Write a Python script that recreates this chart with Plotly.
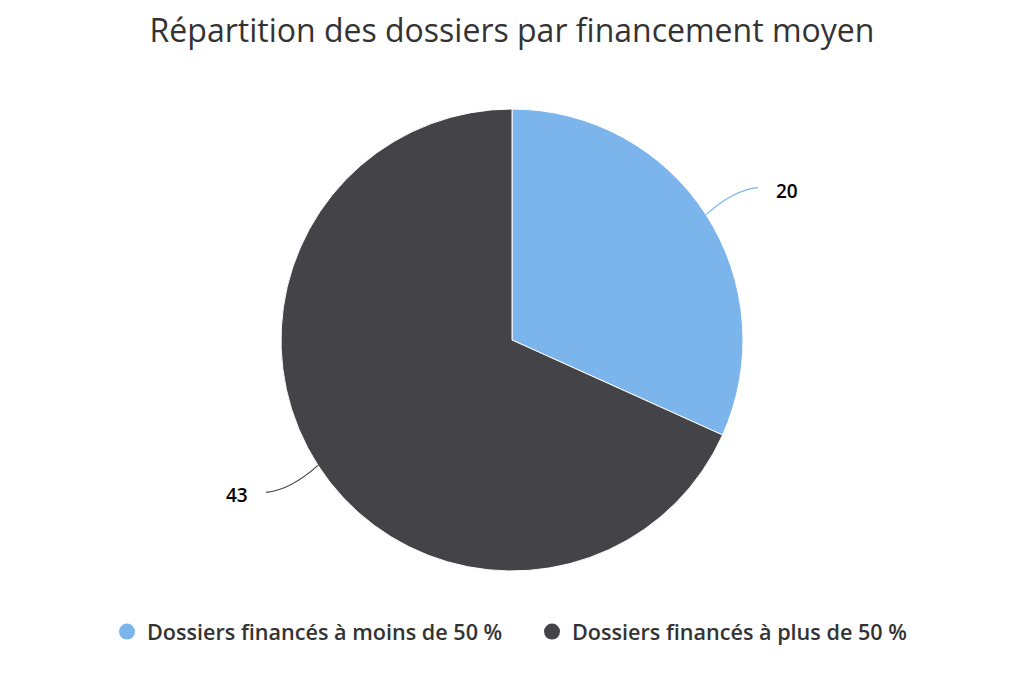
import math
import plotly.graph_objects as go

categories = ["Dossiers financés à moins de 50 %", "Dossiers financés à plus de 50 %"]
values = [20, 43]
colors = ["#7cb5ec", "#434348"]
title_text = "Répartition des dossiers par financement moyen"

W, H = 1024, 683
cx, cy, r = 512, 340, 231  # pie centre / radius in px (layout)

fig = go.Figure()
fig.add_trace(go.Pie(
    labels=categories, values=values, sort=False, direction="clockwise",
    rotation=0, marker=dict(colors=colors, line=dict(color="#ffffff", width=1)),
    textinfo="none", hoverinfo="label+value", showlegend=False,
    domain=dict(x=[(cx - r) / W, (cx + r) / W], y=[(H - cy - r) / H, (H - cy + r) / H]),
))

# legend entries with circle symbols
for cat, col in zip(categories, colors):
    fig.add_trace(go.Scatter(x=[None], y=[None], mode="markers", name=cat,
                             marker=dict(symbol="circle", size=16, color=col),
                             showlegend=True, hoverinfo="skip"))

# data labels with curved connectors, positioned from the data
total = sum(values)
shapes, annots = [], []
cum = 0
for v, col in zip(values, colors):
    mid = (cum + v / 2) / total * 2 * math.pi
    cum += v
    sx, sy = math.sin(mid), -math.cos(mid)
    x0, y0 = cx + r * sx, cy + r * sy
    side = 1 if sx >= 0 else -1
    vdir = 1 if sy >= 0 else -1
    x2, y2 = x0 + side * 52, y0 + vdir * 27
    qx, qy = x0 + side * 28, y2 - vdir * 2
    def px(x): return x / W
    def py(y): return 1 - y / H
    shapes.append(dict(type="path", xref="paper", yref="paper",
                       path=f"M {px(x0)} {py(y0)} Q {px(qx)} {py(qy)} {px(x2)} {py(y2)}",
                       line=dict(color=col, width=1.2)))
    annots.append(dict(x=px(x2 + side * 16), y=py(y2 + 3), xref="paper", yref="paper",
                       text=f"{v}", showarrow=False,
                       xanchor="left" if side > 0 else "right", yanchor="middle",
                       font=dict(family="Open Sans", size=19, color="#000000", weight=600)))

fig.update_layout(
    width=W, height=H,
    margin=dict(l=0, r=0, t=0, b=0),
    paper_bgcolor="#ffffff", plot_bgcolor="#ffffff",
    title=dict(text=title_text, x=0.5, xanchor="center", y=1 - 31 / H, yanchor="middle",
               font=dict(family="Open Sans", size=32, color="#333333")),
    xaxis=dict(visible=False), yaxis=dict(visible=False),
    legend=dict(orientation="h", x=0.5 + 20 / W, xanchor="center", y=1 - 632 / H, yanchor="middle",
                font=dict(family="Open Sans", size=21.6, color="#333333", weight=600),
                itemwidth=30, tracegroupgap=0, entrywidth=380, entrywidthmode="pixels"),
    shapes=shapes, annotations=annots,
)

fig.write_html("out.html", post_script="document.body.style.margin='0';",
               config={"displayModeBar": False})
